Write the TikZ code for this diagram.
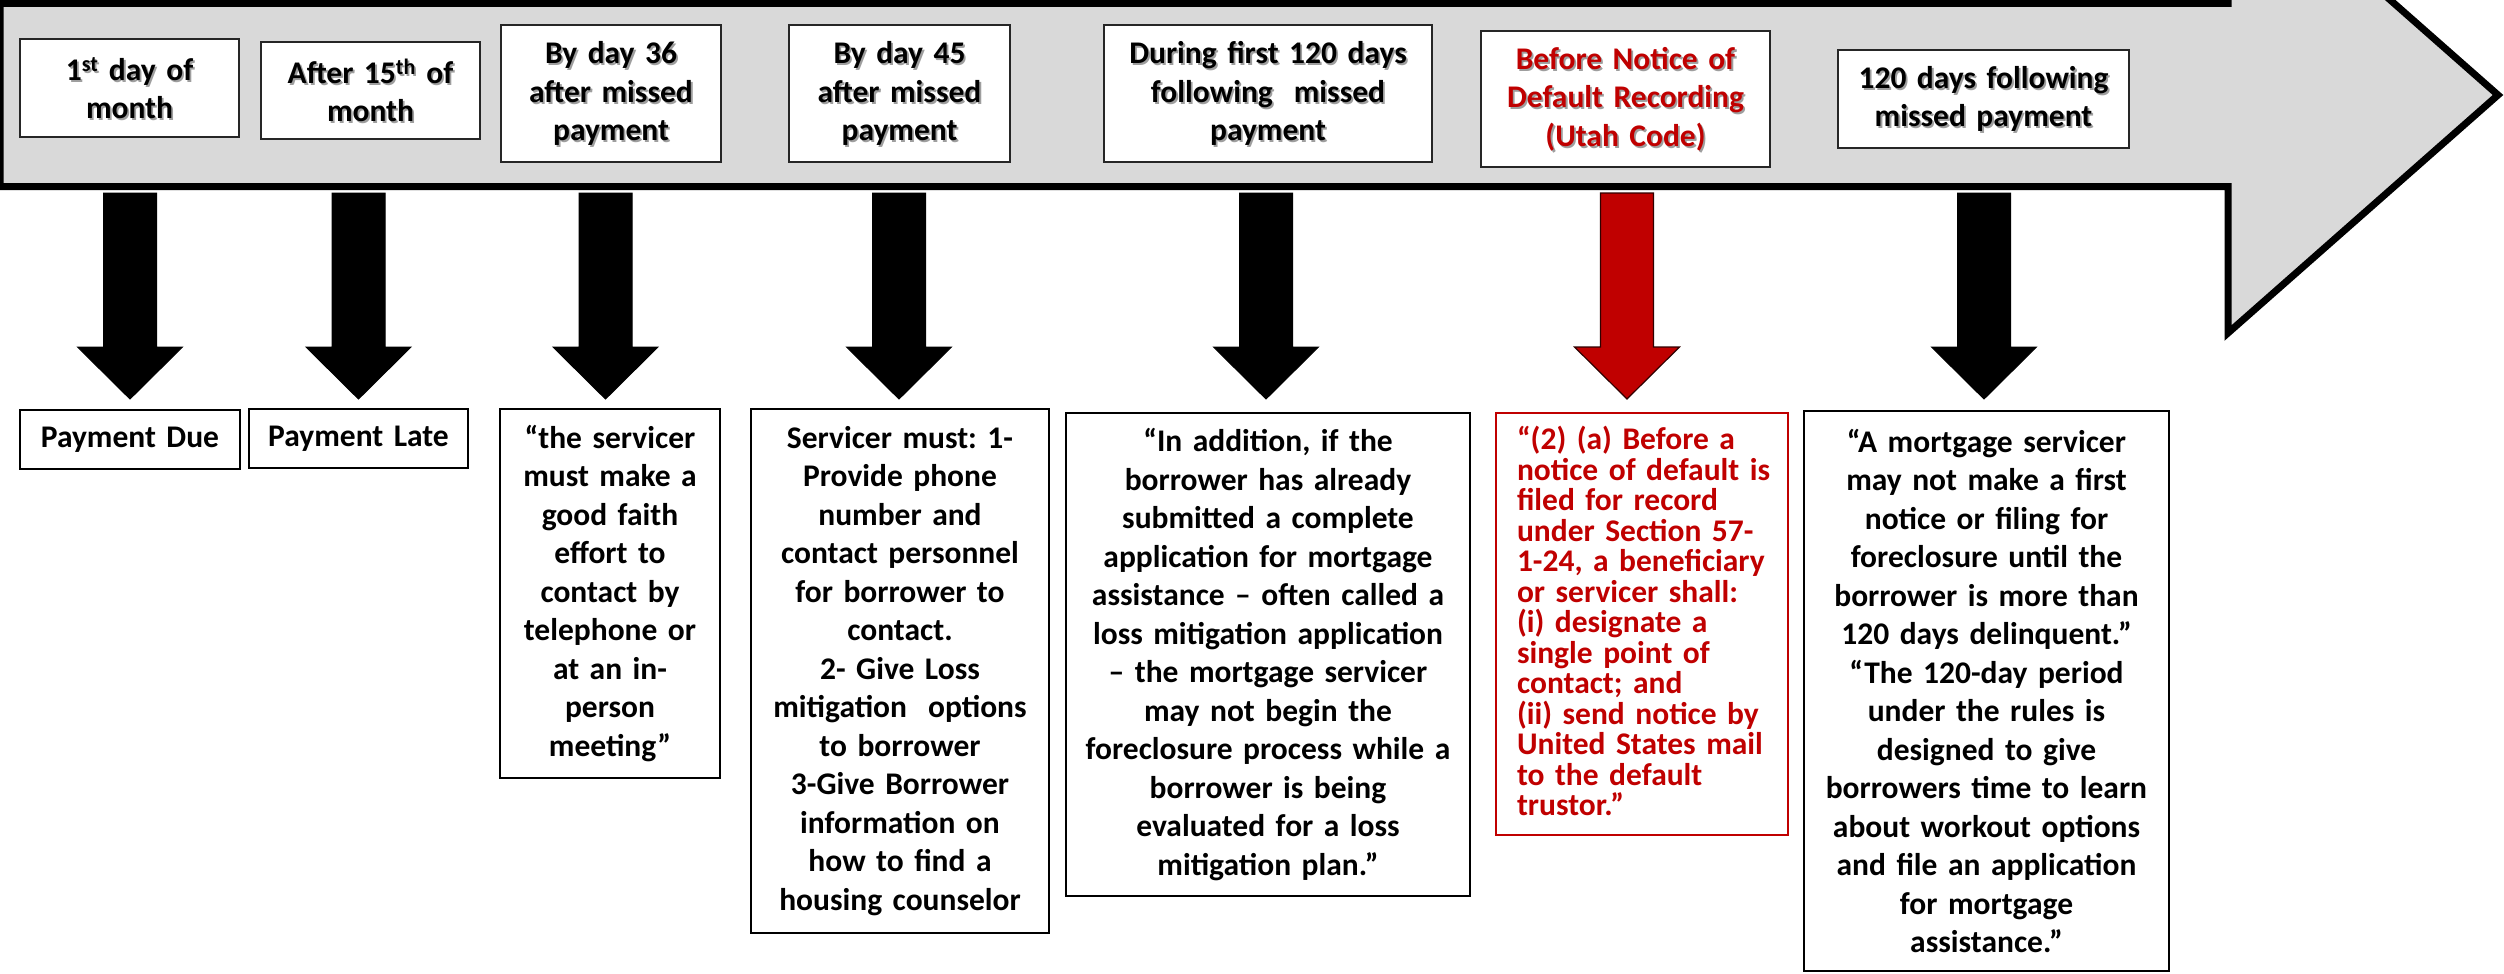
\documentclass[tikz,border=0pt]{standalone}
\usepackage{fontspec}
\setmainfont{Carlito}
\frenchspacing
\definecolor{timeline}{HTML}{D9D9D9}
\definecolor{utahred}{HTML}{C00000}

% one stage label on the timeline: name, centre x, centre y, width, height, text colour, text
\newcommand\timelinestage[7]{%
  \pgfmathsetmacro\stagetw{#4-8}%
  \node[stagebox, minimum width=#4pt, minimum height=#5pt] (#1) at (#2,#3) {};
  \node[stagetext, text=black!38, text width=\stagetw pt, xshift=1.8pt, yshift=-2pt] (#1-shadow) at (#1.center) {#7};
  \node[stagetext, text=#6, text width=\stagetw pt] (#1-label) at (#1.center) {#7};
}

\begin{document}
\begin{tikzpicture}[x=1pt, y=-1pt,
  every node/.style={inner sep=0pt, outer sep=0pt},
  bodyfont/.style={font=\bfseries\frenchspacing\fontsize{31.5}{38.5}\selectfont},
  stagebox/.style={draw=black!85, line width=2.5pt, fill=white},
  stagetext/.style={bodyfont, align=center},
  notebox/.style={draw=black, line width=2.5pt, fill=white, bodyfont, align=center},
  lawbox/.style={draw=utahred, line width=2pt, fill=white, text=utahred,
    font=\bfseries\frenchspacing\fontsize{31.5}{30.5}\selectfont, align=left},
  blockarrow/.pic={\path[pic actions] (-26.5,0) -- (26.5,0) -- (26.5,154) -- (52.5,154)
    -- (0,206) -- (-52.5,154) -- (-26.5,154) -- cycle;},
  downblack/.style={fill=black, draw=black, line width=1pt},
  downred/.style={fill=utahred, draw=black!75!utahred, line width=1.2pt}
]
\useasboundingbox (0,0) rectangle (2504,974);
\clip (0,0) rectangle (2504,974);
\fill[white] (0,0) rectangle (2504,974);

% the timeline arrow
\draw[fill=timeline, line width=7pt, line join=miter]
  (0,3.5) -- (2228,3.5) -- (2228,-143) -- (2498,95) -- (2228,333)
  -- (2228,186.5) -- (0,186.5) -- cycle;

% stages along the timeline
\timelinestage{t1}{129.5}{88}{219}{98}{black}{1\textsuperscript{st} day of\\month}
\timelinestage{t2}{370.5}{90.5}{219}{97}{black}{After 15\textsuperscript{th} of\\month}
\timelinestage{t3}{611}{93.5}{220}{137}{black}{By day 36\\after missed\\payment}
\timelinestage{t4}{899.5}{93.5}{221}{137}{black}{By day 45\\after missed\\payment}
\timelinestage{t5}{1268}{93.5}{328}{137}{black}{During first 120 days\\following\ \ missed\\payment}
\timelinestage{t6}{1625.5}{99}{289}{136}{utahred}{Before Notice of\\Default Recording\\(Utah Code)}
\timelinestage{t7}{1983.5}{99}{291}{98}{black}{120 days following\\missed payment}

% arrows down to the requirements
\pic[downblack] (a1) at (130,193) {blockarrow};
\pic[downblack] (a2) at (358.5,193) {blockarrow};
\pic[downblack] (a3) at (605.5,193) {blockarrow};
\pic[downblack] (a4) at (899,193) {blockarrow};
\pic[downblack] (a5) at (1266,193) {blockarrow};
\pic[downred]   (a6) at (1627,193) {blockarrow};
\pic[downblack] (a7) at (1984,193) {blockarrow};

% requirements at each stage
\node[notebox, minimum width=220pt, minimum height=59pt, text width=210pt] (b1) at (130,439.5) {Payment Due};
\node[notebox, minimum width=219pt, minimum height=59pt, text width=209pt] (b2) at (358.5,438.5) {Payment Late};
\node[notebox, minimum width=220pt, minimum height=369pt, text width=210pt] (b3) at (610,593.5)
  {“the servicer\\must make a\\good faith\\effort to\\contact by\\telephone or\\at an in-\\person\\meeting”};
\node[notebox, minimum width=298pt, minimum height=524pt, text width=288pt] (b4) at (900,671)
  {Servicer must: 1-\\Provide phone\\number and\\contact personnel\\for borrower to\\contact.\\2- Give Loss\\mitigation\ \ options\\to borrower\\3-Give Borrower\\information on\\how to find a\\housing counselor};
\node[notebox, minimum width=404pt, minimum height=483pt, text width=394pt] (b5) at (1268,654.5)
  {“In addition, if the\\borrower has already\\submitted a complete\\application for mortgage\\assistance – often called a\\loss mitigation application\\– the mortgage servicer\\may not begin the\\foreclosure process while a\\borrower is being\\evaluated for a loss\\mitigation plan.”};
\node[draw=utahred, line width=2pt, fill=white, minimum width=292pt, minimum height=422pt] (b6) at (1642,624) {};
\node[lawbox, draw=none, fill=none, text width=264pt, anchor=west] (b6-text) at (1517,621)
  {“(2) (a) Before a\\notice of default is\\filed for record\\under Section 57-\\1-24, a beneficiary\\or servicer shall:\\(i) designate a\\single point of\\contact; and\\(ii) send notice by\\United States mail\\to the default\\trustor.”};
\node[notebox, minimum width=365pt, minimum height=560pt, text width=355pt] (b7) at (1986.5,691)
  {“A mortgage servicer\\may not make a first\\notice or filing for\\foreclosure until the\\borrower is more than\\120 days delinquent.”\\“The 120-day period\\under the rules is\\designed to give\\borrowers time to learn\\about workout options\\and file an application\\for mortgage\\assistance.”};
\end{tikzpicture}
\end{document}
